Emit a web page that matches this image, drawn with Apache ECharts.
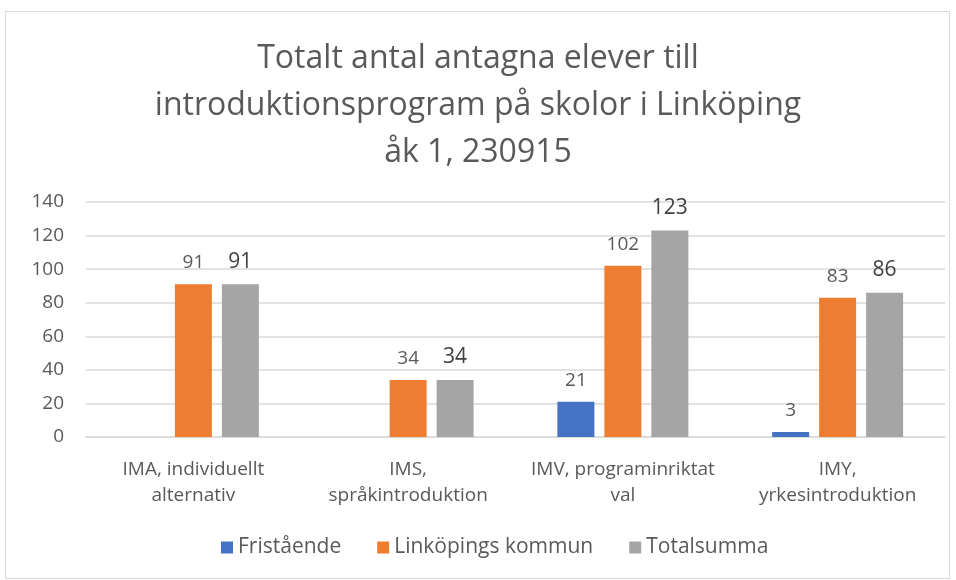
<!DOCTYPE html>
<html>
<head>
<meta charset="utf-8">
<script src="https://cdn.jsdelivr.net/npm/echarts@6/dist/echarts.min.js"></script>
<style>
  html, body { margin: 0; padding: 0; background: #fff; }
  #frame { position: absolute; left: 5px; top: 11px; width: 943px; height: 566px; border: 1px solid #d9d9d9; }
  #chart { position: absolute; left: 0; top: 0; width: 956px; height: 580px; }
</style>
</head>
<body>
<div id="frame"></div>
<div id="chart"></div>
<script>
const categories = ['IMA, individuellt\nalternativ', 'IMS,\nspråkintroduktion', 'IMV, programinriktat\nval', 'IMY,\nyrkesintroduktion'];
const fristaende = [null, null, 21, 3];
const linkoping = [91, 34, 102, 83];
const totalsumma = [91, 34, 123, 86];

const font = '"Open Sans", sans-serif';
let myChart = echarts.init(document.getElementById('chart'));
let option = {
  title: {
    text: 'Totalt antal antagna elever till\nintroduktionsprogram på skolor i Linköping\nåk 1, 230915',
    left: 'center',
    top: 30,
    textStyle: { fontFamily: font, fontSize: 32, fontWeight: 'normal', color: '#595959', lineHeight: 47 }
  },
  legend: {
    bottom: 17,
    left: 216,
    itemWidth: 12,
    itemHeight: 12,
    itemGap: 36,
    icon: 'rect',
    textStyle: { fontFamily: font, fontSize: 21, color: '#595959' }
  },
  grid: { left: 86, right: 11, top: 202, bottom: 143 },
  xAxis: {
    type: 'category',
    data: categories,
    axisTick: { show: false },
    axisLine: { lineStyle: { color: '#d9d9d9', width: 1.5 } },
    axisLabel: { interval: 0, fontFamily: font, fontSize: 19, color: '#595959', margin: 20, lineHeight: 26 }
  },
  yAxis: {
    type: 'value',
    min: 0,
    max: 140,
    interval: 20,
    splitLine: { lineStyle: { color: '#d9d9d9', width: 1.5 } },
    axisLabel: { fontFamily: font, fontSize: 19, color: '#595959', margin: 22 }
  },
  series: [
    {
      name: 'Fristående',
      type: 'bar',
      data: fristaende,
      barWidth: 37,
      barGap: '27%',
      itemStyle: { color: '#4472C4' },
      label: { show: true, position: 'top', distance: 12, fontFamily: font, fontSize: 19, color: '#595959' }
    },
    {
      name: 'Linköpings kommun',
      type: 'bar',
      data: linkoping,
      barWidth: 37,
      barGap: '27%',
      itemStyle: { color: '#ED7D31' },
      label: { show: true, position: 'top', distance: 12, fontFamily: font, fontSize: 19, color: '#595959' }
    },
    {
      name: 'Totalsumma',
      type: 'bar',
      data: totalsumma,
      barWidth: 37,
      barGap: '27%',
      itemStyle: { color: '#A5A5A5' },
      label: { show: true, position: 'top', distance: 12, fontFamily: font, fontSize: 21, color: '#404040' }
    }
  ]
};
myChart.setOption(option);
</script>
</body>
</html>
